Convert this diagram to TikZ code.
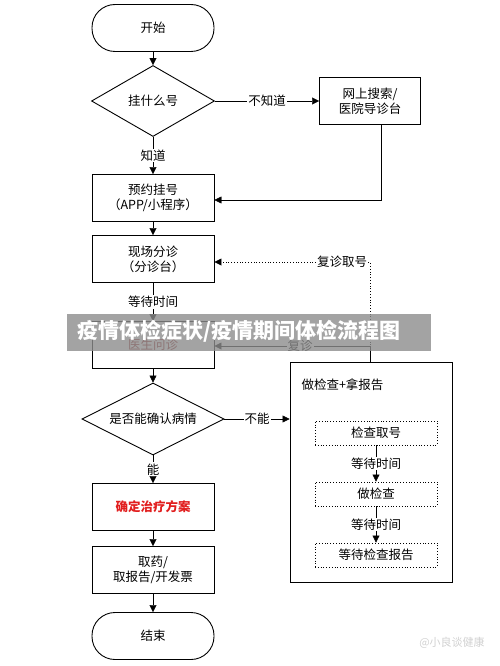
\documentclass[tikz,border=0pt]{standalone}
\usepackage{fontspec}
\setmainfont{Noto Sans CJK SC}
\usepackage{xcolor}
\usetikzlibrary{arrows.meta,shapes.geometric}
\definecolor{docred}{RGB}{150,30,30}
\definecolor{planred}{RGB}{225,30,30}
\tikzset{
  flowbox/.style={draw,line width=0.9pt,minimum width=122pt,minimum height=47pt,align=center,inner sep=2pt},
  endbox/.style={flowbox,rounded corners=23pt},
  askbox/.style={draw,line width=0.9pt,diamond,aspect=2,inner sep=0pt,align=center},
  testbox/.style={draw,dotted,line width=0.8pt,minimum width=122pt,minimum height=24pt,inner sep=1pt},
  onlabel/.style={fill=white,inner sep=1pt}
}
\begin{document}
\begin{tikzpicture}[x=1pt,y=-1pt,>={Triangle[width=7pt,length=7pt]},font=\fontsize{12.5}{15}\selectfont]
\useasboundingbox (0,0) rectangle (500,666);
% left column
\node[endbox] (start) at (153,28) {开始};
\node[askbox,minimum width=123pt,minimum height=71pt] (which) at (153,101) {挂什么号};
\node[flowbox] (book) at (153,198) {预约挂号\\（APP/小程序）};
\node[flowbox] (triage) at (153,259) {现场分诊\\（分诊台）};
\node[flowbox] (doctor) at (153,345) {\textcolor{docred}{医生问诊}};
\node[askbox,minimum width=142pt,minimum height=72pt] (sure) at (153,419) {是否能确认病情};
\node[flowbox] (plan) at (153,507) {\bfseries\textcolor{planred}{确定治疗方案}};
\node[flowbox] (fetch) at (153,570) {取药/\\取报告/开发票};
\node[endbox] (finish) at (153,636) {结束};
% right column
\node[flowbox,minimum width=101pt] (search) at (370,101) {网上搜索/\\医院导诊台};
\node[draw,line width=0.9pt,minimum width=162pt,minimum height=220pt] (exam) at (371,472) {};
\node[anchor=west] (examtitle) at (298,385) {做检查+拿报告};
\node[testbox] (ticket) at (376,433) {检查取号};
\node[testbox] (check) at (376,494) {做检查};
\node[testbox] (report) at (376,555) {等待检查报告};
\coordinate (up) at (370,362);
% connectors
\draw[->] (start)--(which);
\draw[->] (which.east)--node[onlabel]{不知道}(search.west);
\draw[->] (which.south)--node[onlabel]{知道}(book.north);
\draw[->] (search.south-|381,0)--(381,200)--(book.east|-0,200);
\draw[->] (book)--(triage);
\draw[->] (triage.south)--node[onlabel]{等待时间}(doctor.north);
\draw[->] (doctor)--(sure);
\draw[->] (sure.east)--node[onlabel]{不能}(exam.west|-sure);
\draw[->] (sure.south)--node[onlabel]{能}(plan.north);
\draw[->] (plan)--(fetch);
\draw[->] (fetch)--(finish);
\draw[->,dotted,line width=0.8pt] (up)--(370,262)--node[onlabel,pos=0.18]{复诊取号}(triage.east|-0,262);
\draw[->,line width=0.8pt] (up)--(370,346)--node[onlabel,pos=0.45]{复诊}(doctor.east|-0,346);
\draw[->] (ticket)--node[onlabel]{等待时间}(check);
\draw[->] (check)--node[onlabel]{等待时间}(report);
% banner and mark
\fill[black!45,opacity=0.8] (67,314) rectangle (431,351);
\node[anchor=west,text=white,font=\fontsize{21}{24}\selectfont\bfseries] (banner) at (74,331) {疫情体检症状/疫情期间体检流程图};
\node[text=black!18,font=\fontsize{11}{13}\selectfont] (mark) at (452,643) {@小良谈健康};
\end{tikzpicture}
\end{document}
